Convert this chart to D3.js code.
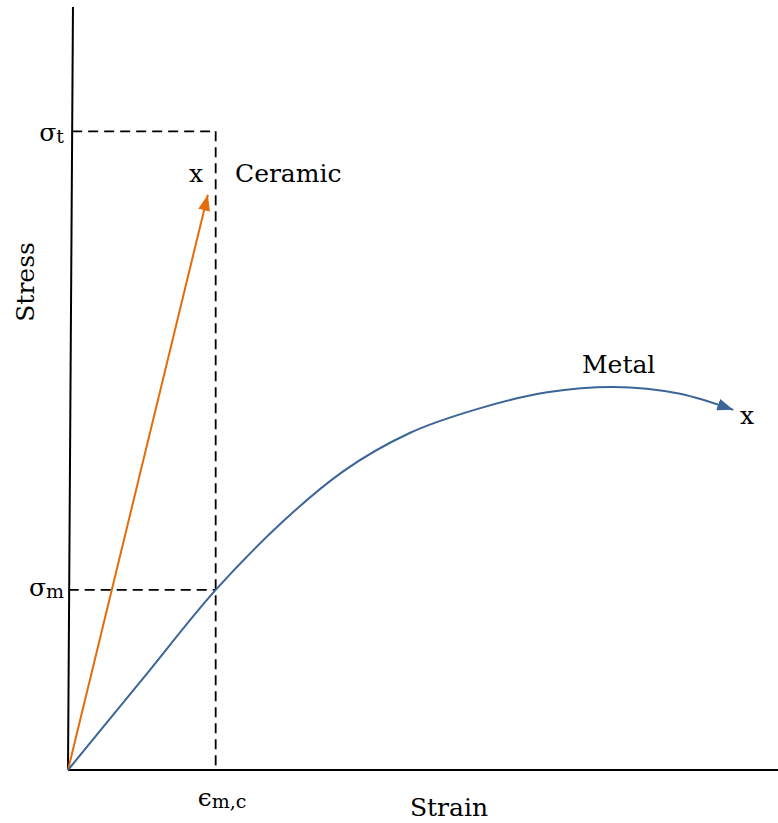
<!DOCTYPE html>
<html><head><meta charset="utf-8">
<script src="https://cdn.jsdelivr.net/npm/d3@7"></script>
<style>body{margin:0;background:#fff}svg{display:block}</style>
</head><body><svg id="c" width="778" height="823"></svg>
<script>
// arbitrary units: strain 0-100, stress 0-100
const metalStrain = [0, 10.4, 20.8, 30.3, 38.7, 48.2, 57.6, 67.5, 76.8, 86.2, 93.7];
const metalStress = [0, 11.8, 23.6, 32.6, 39.1, 44.2, 47.3, 49.5, 50.2, 49.3, 47.2];
const ceramicStrain = [0, 19.7];
const ceramicStress = [0, 75.4];
const sigmaT = 83.7, sigmaM = 23.6, epsMC = 20.8;
const axisTopStrain = 0.7;

const FONT = "'DejaVu Serif', 'Liberation Serif', 'Times New Roman', serif";
const FS = 25, SFS = 19;
const svg = d3.select("#c");
const x = d3.scaleLinear().domain([0, 100]).range([68, 778]);
const y = d3.scaleLinear().domain([0, 100]).range([770, 7]);

const defs = svg.append("defs");
function marker(id, color) {
  defs.append("marker").attr("id", id).attr("markerUnits", "userSpaceOnUse")
    .attr("viewBox", "0 0 16 12").attr("refX", 16).attr("refY", 6)
    .attr("markerWidth", 16).attr("markerHeight", 12).attr("orient", "auto")
    .append("path").attr("d", "M0,0 L16,6 L0,12 Z").attr("fill", color);
}
marker("aO", "#E46C0A");
marker("aB", "#3B6497");

// dashed guides
const dash = "10,6";
svg.append("line").attr("x1", x(axisTopStrain * sigmaT / 100)).attr("y1", y(sigmaT)).attr("x2", x(epsMC)).attr("y2", y(sigmaT))
  .attr("stroke", "#000").attr("stroke-width", 1.8).attr("stroke-dasharray", dash);
svg.append("line").attr("x1", x(epsMC)).attr("y1", y(sigmaT)).attr("x2", x(epsMC)).attr("y2", y(0))
  .attr("stroke", "#000").attr("stroke-width", 1.8).attr("stroke-dasharray", dash);
svg.append("line").attr("x1", x(0.1)).attr("y1", y(sigmaM)).attr("x2", x(epsMC)).attr("y2", y(sigmaM))
  .attr("stroke", "#000").attr("stroke-width", 1.8).attr("stroke-dasharray", dash);

// axes
svg.append("line").attr("x1", x(0)).attr("y1", y(0)).attr("x2", x(axisTopStrain)).attr("y2", y(100))
  .attr("stroke", "#000").attr("stroke-width", 2);
svg.append("line").attr("x1", x(0)).attr("y1", y(0)).attr("x2", x(100)).attr("y2", y(0))
  .attr("stroke", "#000").attr("stroke-width", 2);

// ceramic
const line = d3.line().x(d => x(d[0])).y(d => y(d[1]));
svg.append("path").attr("d", line(ceramicStrain.map((s, i) => [s, ceramicStress[i]])))
  .attr("fill", "none").attr("stroke", "#E46C0A").attr("stroke-width", 2).attr("marker-end", "url(#aO)");

// metal
const cline = d3.line().x(d => x(d[0])).y(d => y(d[1])).curve(d3.curveMonotoneX);
svg.append("path").attr("d", cline(metalStrain.map((s, i) => [s, metalStress[i]])))
  .attr("fill", "none").attr("stroke", "#3B6497").attr("stroke-width", 2).attr("marker-end", "url(#aB)");

// labels
function txt(xp, yp, s) {
  return svg.append("text").attr("x", xp).attr("y", yp).attr("font-size", FS)
    .attr("font-family", FONT).attr("fill", "#000").text(s);
}
function sub(xp, yp, main, s, anchor) {
  const t = svg.append("text").attr("x", xp).attr("y", yp).attr("font-size", FS)
    .attr("font-family", FONT).attr("fill", "#000").attr("text-anchor", anchor);
  t.append("tspan").text(main);
  t.append("tspan").attr("font-size", SFS).attr("dy", 2).text(s);
}
sub(64, 141, "σ", "t", "end");
sub(64, 596, "σ", "m", "end");
sub(222, 806, "ϵ", "m,c", "middle");

txt(449, 816, "Strain").attr("text-anchor", "middle");
txt(0, 0, "Stress").attr("transform", "translate(34,282) rotate(-90)").attr("text-anchor", "middle");
txt(235, 182, "Ceramic");
txt(189, 182, "x");
txt(582, 373, "Metal");
txt(740, 424, "x");
</script></body></html>
